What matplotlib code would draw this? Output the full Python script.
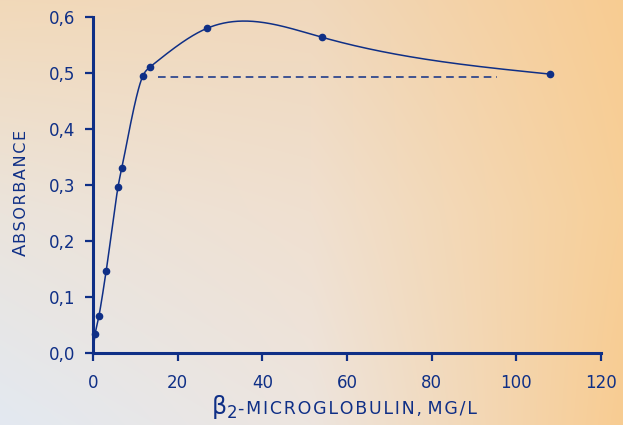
import numpy as np
import matplotlib
matplotlib.use("Agg")
import matplotlib.pyplot as plt

# ---- data ----
conc = [0.0, 0.5, 1.4, 3.1, 5.9, 6.8, 11.8, 13.5, 27.0, 54.0, 108.0]
absorb = [0.0, 0.034, 0.066, 0.146, 0.296, 0.330, 0.495, 0.511, 0.580, 0.564, 0.498]
marker_conc = conc[1:]
marker_abs = absorb[1:]
dash_x = [15.4, 95.4]
dash_y = [0.493, 0.493]
xticks = [0, 20, 40, 60, 80, 100, 120]
yticks = [0.0, 0.1, 0.2, 0.3, 0.4, 0.5, 0.6]
ytick_labels = ["0,0", "0,1", "0,2", "0,3", "0,4", "0,5", "0,6"]

NAVY = "#0f2f86"
HS = "\u200a"  # hair space used as letter spacing
KNEE = 7  # index of point where the smoothing method changes


def natural_spline(x, y, xs):
    x = np.asarray(x, float); y = np.asarray(y, float)
    n = len(x)
    h = np.diff(x)
    A = np.zeros((n, n)); b = np.zeros(n)
    A[0, 0] = 1; A[-1, -1] = 1
    for i in range(1, n - 1):
        A[i, i - 1] = h[i - 1]
        A[i, i] = 2 * (h[i - 1] + h[i])
        A[i, i + 1] = h[i]
        b[i] = 3 * ((y[i + 1] - y[i]) / h[i] - (y[i] - y[i - 1]) / h[i - 1])
    c = np.linalg.solve(A, b)
    bb = (y[1:] - y[:-1]) / h - h * (2 * c[:-1] + c[1:]) / 3
    d = (c[1:] - c[:-1]) / (3 * h)
    idx = np.clip(np.searchsorted(x, xs) - 1, 0, n - 2)
    dx = xs - x[idx]
    return y[idx] + bb[idx] * dx + c[idx] * dx ** 2 + d[idx] * dx ** 3


def catmull_rom(x, y, sx, sy, alpha=0.5, n=60):
    P = np.column_stack([np.asarray(x) * sx, np.asarray(y) * sy])
    P = np.vstack([2 * P[0] - P[1], P, 2 * P[-1] - P[-2]])
    out = []
    for i in range(1, len(P) - 2):
        p0, p1, p2, p3 = P[i - 1], P[i], P[i + 1], P[i + 2]
        t0 = 0.0
        t1 = t0 + np.linalg.norm(p1 - p0) ** alpha
        t2 = t1 + np.linalg.norm(p2 - p1) ** alpha
        t3 = t2 + np.linalg.norm(p3 - p2) ** alpha
        t = np.linspace(t1, t2, n)[:, None]
        a1 = (t1 - t) / (t1 - t0) * p0 + (t - t0) / (t1 - t0) * p1
        a2 = (t2 - t) / (t2 - t1) * p1 + (t - t1) / (t2 - t1) * p2
        a3 = (t3 - t) / (t3 - t2) * p2 + (t - t2) / (t3 - t2) * p3
        b1 = (t2 - t) / (t2 - t0) * a1 + (t - t0) / (t2 - t0) * a2
        b2 = (t3 - t) / (t3 - t1) * a2 + (t - t1) / (t3 - t1) * a3
        c = (t2 - t) / (t2 - t1) * b1 + (t - t1) / (t2 - t1) * b2
        out.append(c)
    C = np.vstack(out)
    return C[:, 0] / sx, C[:, 1] / sy


fig = plt.figure(figsize=(6.23, 4.25), dpi=100)

# background gradient
bg = fig.add_axes([0, 0, 1, 1], zorder=-10)
grid = np.array([
    [[0xe3, 0xe9, 0xf1], [0xed, 0xe5, 0xdf], [0xf8, 0xcc, 0x92]],   # bottom
    [[0xeb, 0xe4, 0xdc], [0xf0, 0xe0, 0xd0], [0xf7, 0xcf, 0x98]],   # middle
    [[0xf2, 0xd9, 0xb9], [0xf0, 0xd8, 0xbc], [0xf8, 0xcc, 0x92]],   # top
], float) / 255.0
H, W = 425, 623
vv = np.linspace(0, 2, H)[:, None]
uu = np.linspace(0, 2, W)[None, :]
i0 = np.clip(np.floor(vv).astype(int), 0, 1); fv = vv - i0
j0 = np.clip(np.floor(uu).astype(int), 0, 1); fu = uu - j0
img = np.zeros((H, W, 3))
for ch in range(3):
    g = grid[:, :, ch]
    img[:, :, ch] = (g[i0, j0] * (1 - fv) * (1 - fu) + g[i0 + 1, j0] * fv * (1 - fu)
                     + g[i0, j0 + 1] * (1 - fv) * fu + g[i0 + 1, j0 + 1] * fv * fu)
bg.imshow(img, origin="lower", aspect="auto", extent=[0, 1, 0, 1])
bg.set_axis_off()

ax = fig.add_axes([93 / 623, 72 / 425, 508 / 623, 336 / 425])
ax.patch.set_alpha(0)

# rising part: centripetal Catmull-Rom; plateau part: natural cubic spline
cx, cy = catmull_rom(conc, absorb, 508 / 120, 336 / 0.6)
keep = cx <= conc[KNEE]
xs_hi = np.linspace(conc[KNEE], conc[-1], 600)
ys_hi = natural_spline(conc, absorb, xs_hi)
curve_x = np.concatenate([cx[keep], xs_hi])
curve_y = np.concatenate([cy[keep], ys_hi])
ax.plot(curve_x, curve_y, color=NAVY, lw=1.1, clip_on=False)
ax.plot(marker_conc, marker_abs, "o", color=NAVY, ms=4.5, clip_on=False)
ax.plot(dash_x, dash_y, color=NAVY, lw=1.1, dashes=(5, 3.2))

ax.set_xlim(0, 120)
ax.set_ylim(0, 0.6)
for s in ["top", "right"]:
    ax.spines[s].set_visible(False)
for s in ["left", "bottom"]:
    ax.spines[s].set_color(NAVY)
    ax.spines[s].set_linewidth(2.2)
ax.set_xticks(xticks)
ax.set_yticks(yticks)
ax.set_yticklabels(ytick_labels)
ax.tick_params(colors=NAVY, width=1.6, length=6, labelsize=12, direction="out")
ax.tick_params(axis="y", pad=7)
ax.tick_params(axis="x", pad=9)

# y label (small caps look)
fig.canvas.draw()
r = fig.canvas.get_renderer()
ylx, yly = 26 / 623, (425 - 256) / 425
t1 = fig.text(ylx, yly, "A", rotation=90, rotation_mode="anchor", ha="left", va="baseline",
              fontsize=13, color=NAVY)
bb1 = t1.get_window_extent(r)
t2 = fig.text(ylx, (bb1.y1 + 1) / 425, HS.join("BSORBANCE"), rotation=90,
              rotation_mode="anchor", ha="left", va="baseline", fontsize=11.5, color=NAVY)

# x label
xlx, xly = 211 / 623, (425 - 414) / 425
t3 = fig.text(xlx, xly, r"$\mathrm{\beta}_{2}$", ha="left", va="baseline", fontsize=17,
              color=NAVY)
bb3 = t3.get_window_extent(r)
fig.text((bb3.x1 + 1) / 623, xly, HS.join("-MICROGLOBULIN,") + " " + HS.join("MG/L"),
         ha="left", va="baseline", fontsize=12.5, color=NAVY)

fig.savefig("out.png", dpi=100)
